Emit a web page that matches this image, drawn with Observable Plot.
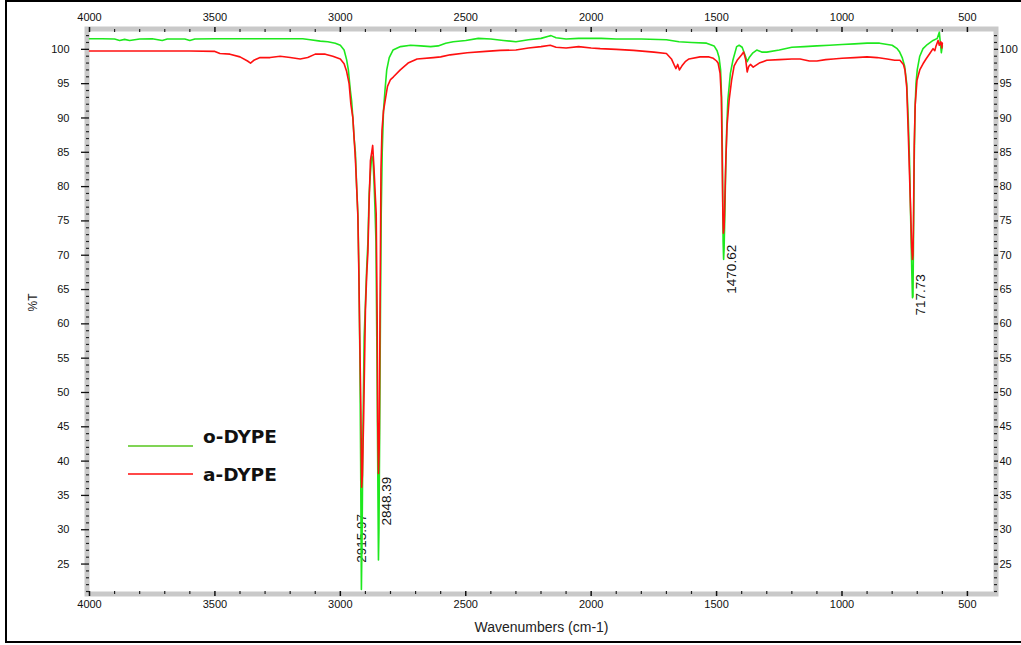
<!DOCTYPE html>
<html>
<head>
<meta charset="utf-8">
<script src="https://cdn.jsdelivr.net/npm/d3@7"></script>
<script src="https://cdn.jsdelivr.net/npm/@observablehq/plot@0.6"></script>
<style>
  html, body { margin: 0; padding: 0; background: #fff; width: 1021px; height: 645px; overflow: hidden; }
  #wrap { position: relative; width: 1021px; height: 645px; }
  #border { position: absolute; left: 5px; top: 0px; width: 1040px; height: 643px; box-sizing: border-box; border: 2.5px solid #000; pointer-events: none; }
  #legend { position: absolute; left: 128px; top: 426px; font-family: "DejaVu Sans", sans-serif; font-weight: bold; font-size: 18.5px; color: #111; white-space: nowrap; width: 200px; }
  .lg-row { position: relative; height: 34px; }
  .lg-line { position: absolute; left: 0; width: 65px; height: 2px; }
  .lg-text { position: absolute; left: 75px; white-space: nowrap; }
  svg text { font-family: "Liberation Sans", Arial, sans-serif; }
</style>
</head>
<body>
<div id="wrap">
  <div id="chart"></div>
  <div id="legend"></div>
  <div id="border"></div>
</div>
<script>
// ---- data (wavenumber cm-1, %T) ----
const oWave = [4000,3950,3900,3880,3860,3840,3820,3800,3750,3710,3690,3620,3600,3580,3500,3300,3150,3120,3080,3050,3020,3000,2985,2975,2968,2960,2955,2950,2945,2940,2935,2930,2926,2922,2919,2916,2913,2910,2905,2900,2895,2890,2885,2880,2875,2870,2866,2862,2858,2854,2850,2848,2846,2843,2840,2837,2833,2828,2822,2815,2805,2790,2760,2720,2680,2640,2610,2580,2550,2500,2450,2400,2350,2300,2250,2200,2170,2160,2140,2100,2050,2000,1960,1900,1800,1700,1650,1600,1540,1510,1498,1490,1484,1480,1477,1474,1472,1470,1467,1464,1460,1455,1445,1435,1420,1410,1398,1385,1378,1370,1355,1340,1320,1300,1250,1200,1150,1100,1050,1000,950,900,850,800,780,770,760,750,742,736,731,726,722,719,717,715,712,709,705,700,690,677,660,637,620,612,608,604,600];
const oT    = [101.55,101.55,101.5,101.3,101.45,101.3,101.4,101.5,101.55,101.3,101.5,101.5,101.3,101.5,101.55,101.55,101.55,101.4,101.2,101.1,100.9,100.6,99.9,98.5,97,94,92.5,90,87,85,80,76,68,55,40,21.3,30,44,58,63,68,72,79,82,84.5,84,81,77,72,55,35,25.6,30,45,62,76,85,91,94,97,98.8,99.9,100.4,100.6,100.5,100.4,100.5,100.9,101.1,101.3,101.6,101.5,101.3,101.1,101.4,101.6,101.9,102,101.7,101.5,101.6,101.6,101.6,101.5,101.5,101.4,101.1,101.0,100.9,100.5,99.8,98.8,97,93,85,72,69.4,71,76,82,88,92.6,96.5,98.4,100.4,100.6,100.3,99,98.2,98.8,99.5,99.9,99.6,99.6,99.9,100.3,100.4,100.5,100.6,100.7,100.8,100.9,100.9,100.6,100.1,99.6,98.8,97.5,95,90,84,75,68,63.8,64,72,84,91,95,97,99,100.1,100.7,101.3,101.6,102.5,101,99.5,100.5];

const aWave = [4000,3600,3500,3480,3440,3400,3370,3358,3345,3320,3280,3240,3200,3160,3130,3100,3060,3030,3000,2985,2975,2965,2958,2950,2945,2940,2935,2930,2926,2923,2918,2915,2912,2907,2900,2895,2890,2885,2880,2875,2871,2866,2861,2857,2853,2851,2848,2845,2842,2838,2834,2828,2821,2812,2800,2788,2761,2730,2694,2629,2600,2562,2494,2420,2363,2300,2250,2200,2163,2140,2100,2050,2000,1964,1900,1831,1750,1700,1680,1670,1662,1655,1648,1638,1625,1610,1566,1530,1513,1500,1494,1486,1481,1478,1475,1473,1470,1467,1463,1458,1450,1440,1430,1418,1400,1392,1384,1378,1372,1365,1354,1330,1300,1250,1200,1167,1130,1100,1065,1035,1000,950,900,860,820,790,769,755,749,742,736,731,726,722,719,717,715,712,708,701,690,677,665,650,637,630,625,617,612,606,602,600];
const aT    = [99.75,99.75,99.7,99.4,99.3,98.9,98.3,98.0,98.4,98.8,98.8,99.0,98.8,98.6,98.8,99.3,99.3,99.0,98.6,97.9,96.8,95,92,90,87,84,80,75.6,67,59,47.4,36.2,38,46.4,61.9,67,70.5,78,83.8,85,86,82.8,79,76,60,45.8,38.2,42,60,82.5,88.2,91,92.6,94.6,95.6,96,97,98,98.6,98.8,98.9,99.2,99.5,99.7,99.85,99.9,100.2,100.4,100.6,100.3,100.2,100.4,100.2,100.1,100,99.85,99.6,99.4,98.6,97.8,97.2,97.8,97.0,97.6,98.2,98.6,98.9,98.9,98.7,98.3,98,96.5,93,85,76,73.2,74,78,84,89,92.6,95.5,97.6,98.4,99.2,99.6,98.5,96.7,97.5,97.8,97.4,98.0,98.4,98.5,98.6,98.6,98.3,98.3,98.5,98.6,98.7,98.8,98.9,98.8,98.6,98.4,98.4,97.8,97.0,94.5,88,82,76,71,69.4,70,75,86,92,95.5,97.0,97.9,98.6,99.4,100.1,99.8,100.5,101.3,100.6,101.1,100.2,100.9];

const seriesNames = ["o-DYPE", "a-DYPE"];
const peakLabels = ["2915.97", "2848.39", "1470.62", "717.73"];
const peakLabelT = [25.2, 30.6, 64.4, 61.2];
const xTitle = "Wavenumbers (cm-1)";
const yTitle = "%T";

const xMajor = [4000, 3500, 3000, 2500, 2000, 1500, 1000, 500];
const yMajor = [25, 30, 35, 40, 45, 50, 55, 60, 65, 70, 75, 80, 85, 90, 95, 100];

// ---- build tables ----
const oData = oWave.map((w, i) => ({w, t: oT[i]}));
const aData = aWave.map((w, i) => ({w, t: aT[i]}));
const labels = peakLabels.map((s, i) => ({w: +s, t: peakLabelT[i], s}));
const xMinor = d3.range(500, 4001, 100).filter(v => v % 500 !== 0);
const yMinor = d3.range(21, 103, 1).filter(v => v % 5 !== 0);

const green = "#1ee81e", red = "#ff1010";
const fmt = d3.format("d");

const chart = Plot.plot({
  width: 1021,
  height: 645,
  marginLeft: 89,
  marginRight: 28,
  marginTop: 31,
  marginBottom: 54,
  style: {fontFamily: "Liberation Sans, Arial, sans-serif", fontSize: "11px", color: "#111", background: "transparent"},
  x: {domain: [4000, 396]},
  y: {domain: [21, 102.6]},
  marks: [
    Plot.frame({stroke: "#c9c9c9", strokeWidth: 5, inset: -2.5}),
    // bottom axis
    Plot.axisX(xMajor, {anchor: "bottom", tickSize: 5, tickPadding: 4, strokeWidth: 1.5, tickFormat: fmt, label: null, fontSize: 11}),
    Plot.axisX(xMinor, {anchor: "bottom", tickSize: 3, strokeWidth: 1.2, fill: "none", stroke: "#222", label: null}),
    // top axis
    Plot.axisX(xMajor, {anchor: "top", tickSize: 5, tickPadding: 6, strokeWidth: 1.5, tickFormat: fmt, label: null, fontSize: 11}),
    Plot.axisX(xMinor, {anchor: "top", tickSize: 3, strokeWidth: 1.2, fill: "none", stroke: "#222", label: null}),
    // left axis
    Plot.axisY(yMajor, {anchor: "left", tickSize: 8, tickPadding: 12, strokeWidth: 1.3, tickFormat: fmt, label: null, fontSize: 11, fontFamily: "DejaVu Sans, sans-serif"}),
    Plot.axisY(yMinor, {anchor: "left", tickSize: 3, strokeWidth: 1.2, fill: "none", stroke: "#222", label: null}),
    // right axis
    Plot.axisY(yMajor, {anchor: "right", tickSize: 4, tickPadding: 2, strokeWidth: 1.3, tickFormat: fmt, label: null, fontSize: 11, fontFamily: "DejaVu Sans, sans-serif"}),
    Plot.axisY(yMinor, {anchor: "right", tickSize: 3, strokeWidth: 1.2, fill: "none", stroke: "#222", label: null}),
    // axis titles
    Plot.text([xTitle], {frameAnchor: "bottom", dy: 36, text: d => d, lineAnchor: "middle", fontSize: 14, fill: "#222"}),
    Plot.text([yTitle], {frameAnchor: "left", dx: -56, text: d => d, rotate: -90, lineAnchor: "middle", fontSize: 12, fill: "#222"}),
    // peak labels
    Plot.text(labels.slice(0, 1), {x: "w", y: "t", text: "s", rotate: -90, textAnchor: "start", lineAnchor: "middle", fontSize: 13.5, fill: "#111"}),
    Plot.text(labels.slice(1), {x: "w", y: "t", text: "s", rotate: -90, textAnchor: "start", lineAnchor: "middle", dx: 8, fontSize: 13.5, fill: "#111"}),
    // spectra
    Plot.line(oData, {x: "w", y: "t", stroke: green, strokeWidth: 1.6}),
    Plot.line(aData, {x: "w", y: "t", stroke: red, strokeWidth: 1.6})
  ]
});
document.getElementById("chart").appendChild(chart);

// legend
const legend = document.getElementById("legend");
const legendColors = ["#80d455", "#ff4848"];
seriesNames.forEach((name, i) => {
  const row = document.createElement("div");
  row.className = "lg-row";
  const ln = document.createElement("div");
  ln.className = "lg-line";
  ln.style.background = legendColors[i];
  ln.style.top = (i === 0 ? 19 : 13) + "px";
  const tx = document.createElement("div");
  tx.className = "lg-text";
  tx.style.top = (i === 0 ? 0 : 4) + "px";
  tx.textContent = name;
  row.appendChild(ln);
  row.appendChild(tx);
  legend.appendChild(row);
});
</script>
</body>
</html>
